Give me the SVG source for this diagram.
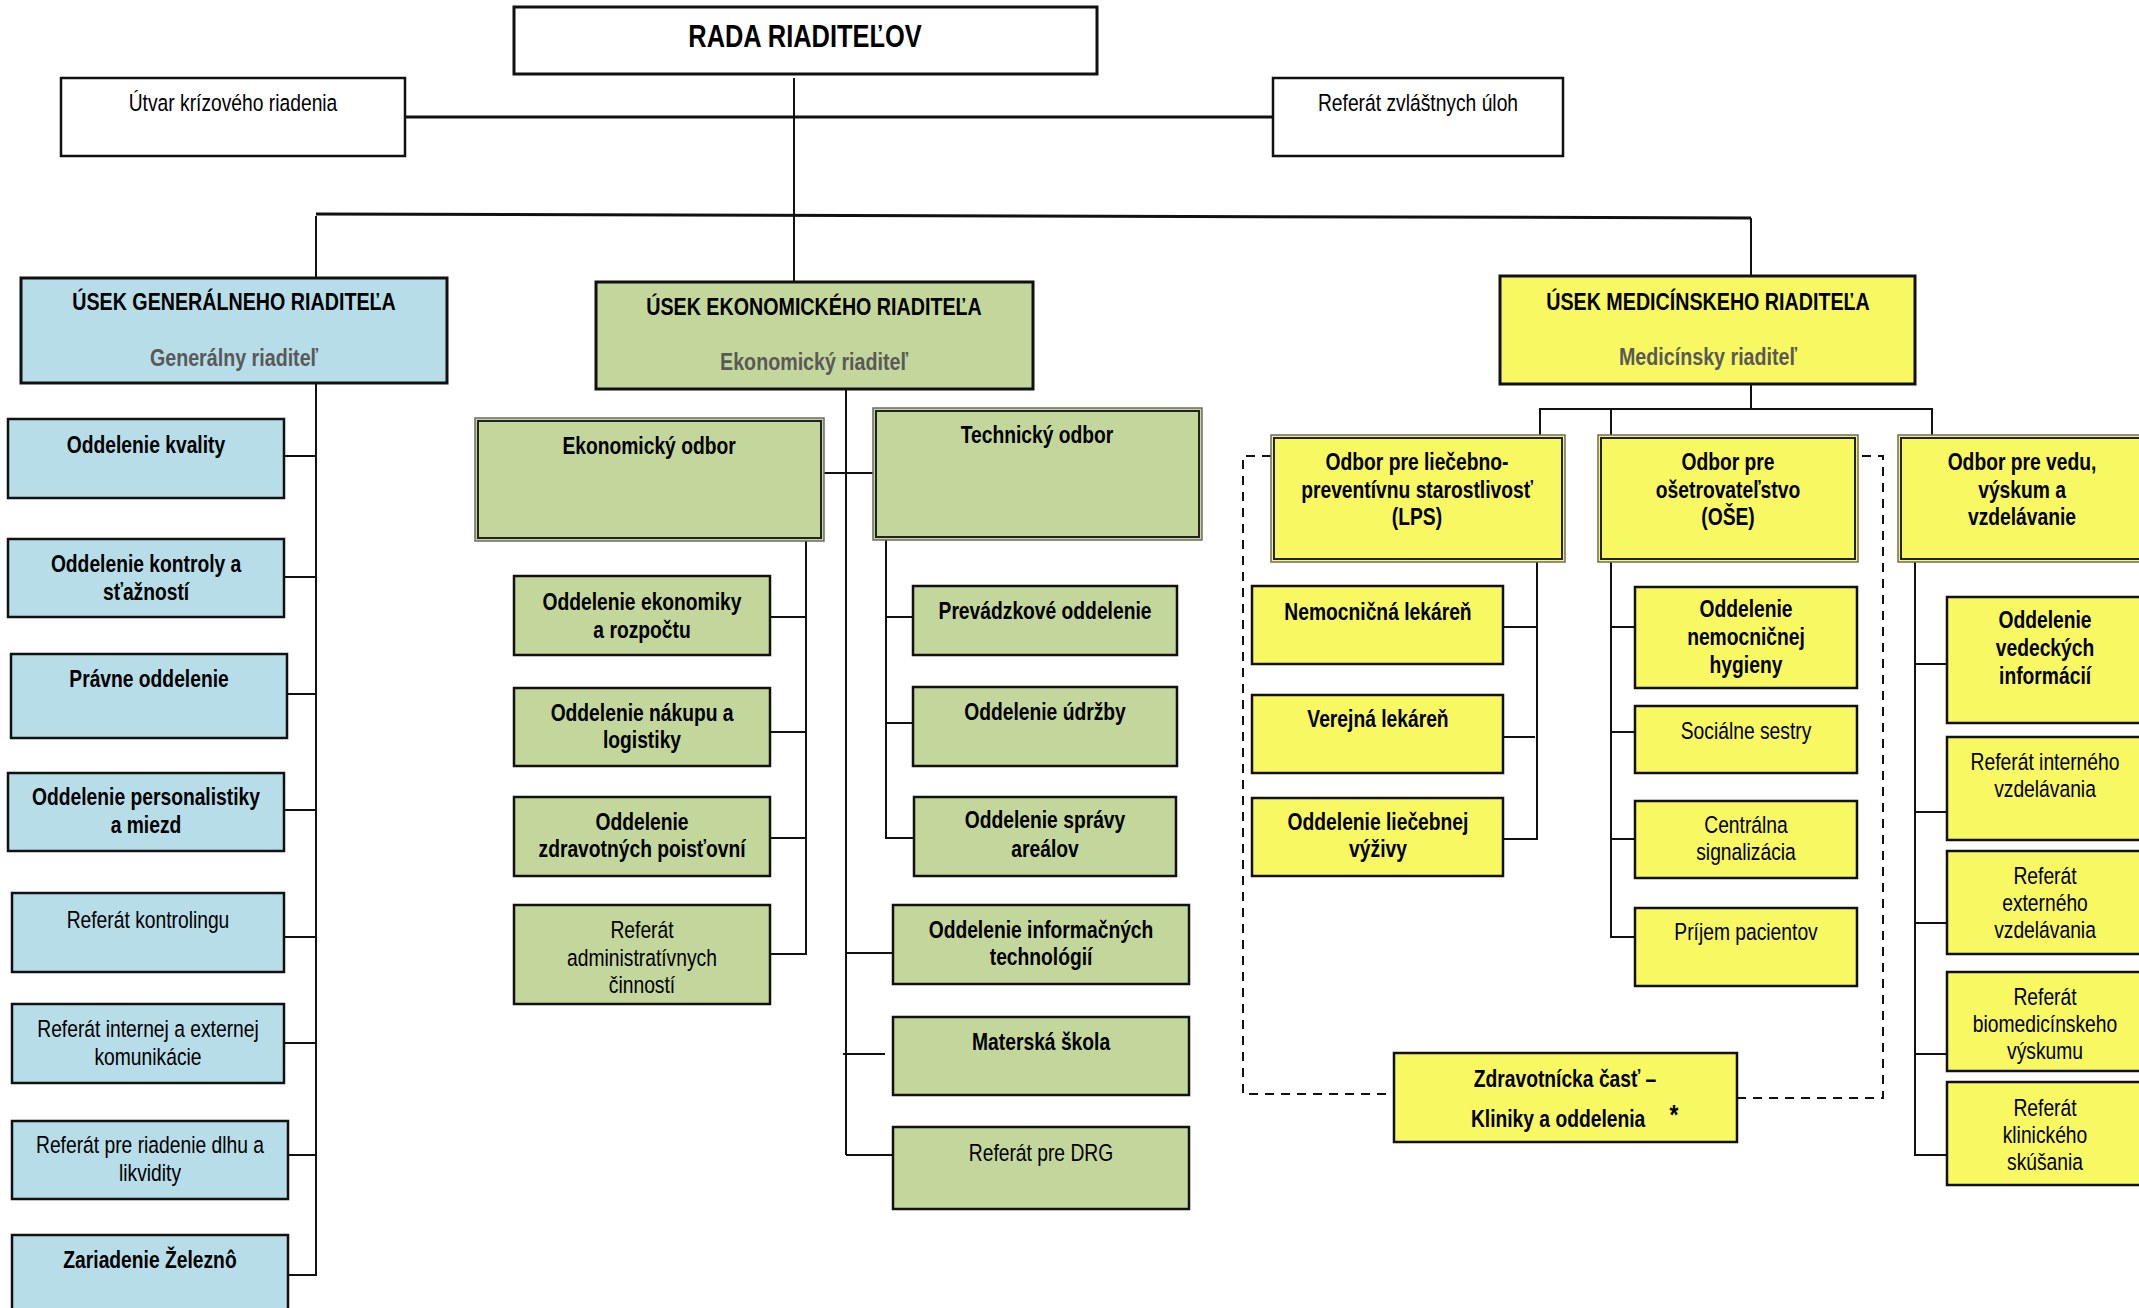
<svg xmlns="http://www.w3.org/2000/svg" width="2139" height="1308" viewBox="0 0 2139 1308">
<style>
text{font-family:"Liberation Sans Narrow","Arial Narrow","Liberation Sans",sans-serif;font-size:23.5px;text-anchor:middle;fill:#000;transform-box:fill-box;transform-origin:center;transform:scaleX(0.82)}
.b{font-weight:bold}
.sub{font-weight:bold;fill:#595959}
.box{stroke:#111;stroke-width:2.5}
.w{fill:#fff}
.bl{fill:#b7dde8}
.gr{fill:#c3d69b}
.ye{fill:#f8f862}
.outer{stroke:#6b6b6b;stroke-width:1.5}
.inner{fill:none;stroke:#222;stroke-width:2}
.ln{stroke:#111;stroke-width:2;fill:none}
.dash{stroke:#111;stroke-width:2;fill:none;stroke-dasharray:9,7}
</style>
<rect width="2139" height="1308" fill="#fff"/>
<g id="connectors">
<line class="ln" x1="405" y1="117" x2="1273" y2="117" style="stroke-width:3"/>
<line class="ln" x1="794" y1="78" x2="794" y2="282"/>
<polyline class="ln" points="316,214 1751,218" style="stroke-width:3"/>
<line class="ln" x1="316" y1="216" x2="316" y2="278"/>
<line class="ln" x1="1751" y1="218" x2="1751" y2="276"/>
<line class="ln" x1="316" y1="383" x2="316" y2="1276"/>
<line class="ln" x1="284" y1="456" x2="316" y2="456"/>
<line class="ln" x1="284" y1="577" x2="316" y2="577"/>
<line class="ln" x1="287" y1="694" x2="316" y2="694"/>
<line class="ln" x1="284" y1="810" x2="316" y2="810"/>
<line class="ln" x1="284" y1="937" x2="316" y2="937"/>
<line class="ln" x1="284" y1="1043" x2="316" y2="1043"/>
<line class="ln" x1="288" y1="1155" x2="316" y2="1155"/>
<line class="ln" x1="288" y1="1275" x2="316" y2="1275"/>
<line class="ln" x1="846" y1="389" x2="846" y2="1155"/>
<line class="ln" x1="824" y1="473" x2="873" y2="473"/>
<polyline class="ln" points="806,541 806,954 770,954"/>
<line class="ln" x1="770" y1="617" x2="806" y2="617"/>
<line class="ln" x1="770" y1="732" x2="806" y2="732"/>
<line class="ln" x1="770" y1="838" x2="806" y2="838"/>
<polyline class="ln" points="886,540 886,838 914,838"/>
<line class="ln" x1="886" y1="617" x2="913" y2="617"/>
<line class="ln" x1="886" y1="723" x2="913" y2="723"/>
<line class="ln" x1="846" y1="953" x2="893" y2="953"/>
<line class="ln" x1="843" y1="1054" x2="885" y2="1054"/>
<polyline class="ln" points="846,1155 893,1155"/>
<line class="ln" x1="1751" y1="384" x2="1751" y2="409"/>
<polyline class="ln" points="1540,435 1540,409 1932,409 1932,435"/>
<line class="ln" x1="1611" y1="409" x2="1611" y2="435"/>
<polyline class="ln" points="1537,562 1537,839 1503,839"/>
<line class="ln" x1="1503" y1="627" x2="1537" y2="627"/>
<line class="ln" x1="1503" y1="737" x2="1535" y2="737"/>
<polyline class="ln" points="1611,562 1611,937 1635,937"/>
<line class="ln" x1="1611" y1="627" x2="1635" y2="627"/>
<line class="ln" x1="1611" y1="732" x2="1635" y2="732"/>
<line class="ln" x1="1611" y1="839" x2="1635" y2="839"/>
<polyline class="ln" points="1915,562 1915,1155 1947,1155"/>
<line class="ln" x1="1915" y1="664" x2="1947" y2="664"/>
<line class="ln" x1="1915" y1="812" x2="1947" y2="812"/>
<line class="ln" x1="1915" y1="923" x2="1947" y2="923"/>
<line class="ln" x1="1915" y1="1054" x2="1947" y2="1054"/>
<polyline class="dash" points="1271,456 1243,456 1243,1094 1394,1094"/>
<polyline class="dash" points="1737,1098 1883,1098 1883,456 1858,456"/>
</g>

<g id="rada"><rect class="box w" x="514" y="7" width="583" height="67" style="stroke-width:3"/><text class="b" x="805" y="47" style="font-size:31px">RADA RIADITEĽOV</text></g>
<g id="utvar"><rect class="box w" x="61" y="78" width="344" height="78"/><text x="233" y="111">Útvar krízového riadenia</text></g>
<g id="referat-zvl"><rect class="box w" x="1273" y="78" width="290" height="78"/><text x="1418" y="111">Referát zvláštnych úloh</text></g>

<g id="usek-gen"><rect class="box bl" x="21" y="278" width="426" height="105" style="stroke-width:3"/><text class="b" x="234" y="310" style="font-size:24px">ÚSEK GENERÁLNEHO RIADITEĽA</text><text class="sub" x="234" y="366" style="font-size:24px">Generálny riaditeľ</text></g>
<g id="usek-eko"><rect class="box gr" x="596" y="282" width="437" height="107" style="stroke-width:3"/><text class="b" x="814" y="315" style="font-size:24px">ÚSEK EKONOMICKÉHO RIADITEĽA</text><text class="sub" x="814" y="370" style="font-size:24px">Ekonomický riaditeľ</text></g>
<g id="usek-med"><rect class="box ye" x="1500" y="276" width="415" height="108" style="stroke-width:3"/><text class="b" x="1708" y="310" style="font-size:24px">ÚSEK MEDICÍNSKEHO RIADITEĽA</text><text class="sub" x="1708" y="365" style="font-size:24px">Medicínsky riaditeľ</text></g>

<g id="g1"><rect class="box bl" x="8" y="419" width="276" height="79"/><text class="b" x="146" y="453">Oddelenie kvality</text></g>
<g id="g2"><rect class="box bl" x="8" y="539" width="276" height="78"/><text class="b" x="146" y="572">Oddelenie kontroly a</text><text class="b" x="146" y="600">sťažností</text></g>
<g id="g3"><rect class="box bl" x="11" y="654" width="276" height="84"/><text class="b" x="149" y="687">Právne oddelenie</text></g>
<g id="g4"><rect class="box bl" x="8" y="773" width="276" height="78"/><text class="b" x="146" y="805">Oddelenie personalistiky</text><text class="b" x="146" y="833">a miezd</text></g>
<g id="g5"><rect class="box bl" x="12" y="893" width="272" height="79"/><text x="148" y="928">Referát kontrolingu</text></g>
<g id="g6"><rect class="box bl" x="12" y="1004" width="272" height="79"/><text x="148" y="1037">Referát internej a externej</text><text x="148" y="1065">komunikácie</text></g>
<g id="g7"><rect class="box bl" x="12" y="1121" width="276" height="78"/><text x="150" y="1153">Referát pre riadenie dlhu a</text><text x="150" y="1181">likvidity</text></g>
<g id="g8"><rect class="box bl" x="12" y="1235" width="276" height="90"/><text class="b" x="150" y="1268">Zariadenie Železnô</text></g>

<g id="eko-odbor"><rect class="outer gr" x="475" y="418" width="349" height="123"/><rect class="inner" x="478" y="421" width="343" height="117"/><text class="b" x="649" y="454">Ekonomický odbor</text></g>
<g id="tech-odbor"><rect class="outer gr" x="873" y="408" width="329" height="132"/><rect class="inner" x="876" y="411" width="323" height="126"/><text class="b" x="1037" y="443">Technický odbor</text></g>
<g id="e1"><rect class="box gr" x="514" y="576" width="256" height="79"/><text class="b" x="642" y="610">Oddelenie ekonomiky</text><text class="b" x="642" y="638">a rozpočtu</text></g>
<g id="e2"><rect class="box gr" x="514" y="688" width="256" height="78"/><text class="b" x="642" y="721">Oddelenie nákupu a</text><text class="b" x="642" y="748">logistiky</text></g>
<g id="e3"><rect class="box gr" x="514" y="797" width="256" height="79"/><text class="b" x="642" y="830">Oddelenie</text><text class="b" x="642" y="857">zdravotných poisťovní</text></g>
<g id="e4"><rect class="box gr" x="514" y="905" width="256" height="99"/><text x="642" y="938">Referát</text><text x="642" y="966">administratívnych</text><text x="642" y="993">činností</text></g>
<g id="t1"><rect class="box gr" x="913" y="586" width="264" height="69"/><text class="b" x="1045" y="619">Prevádzkové oddelenie</text></g>
<g id="t2"><rect class="box gr" x="913" y="687" width="264" height="79"/><text class="b" x="1045" y="720">Oddelenie údržby</text></g>
<g id="t3"><rect class="box gr" x="914" y="797" width="262" height="79"/><text class="b" x="1045" y="828">Oddelenie správy</text><text class="b" x="1045" y="857">areálov</text></g>
<g id="t4"><rect class="box gr" x="893" y="905" width="296" height="79"/><text class="b" x="1041" y="938">Oddelenie informačných</text><text class="b" x="1041" y="965">technológií</text></g>
<g id="t5"><rect class="box gr" x="893" y="1017" width="296" height="78"/><text class="b" x="1041" y="1050">Materská škola</text></g>
<g id="t6"><rect class="box gr" x="893" y="1127" width="296" height="82"/><text x="1041" y="1161">Referát pre DRG</text></g>

<g id="lps"><rect class="outer ye" x="1271" y="435" width="294" height="127"/><rect class="inner" x="1274" y="438" width="288" height="121"/><text class="b" x="1417" y="470">Odbor pre liečebno-</text><text class="b" x="1417" y="498">preventívnu starostlivosť</text><text class="b" x="1417" y="525">(LPS)</text></g>
<g id="ose"><rect class="outer ye" x="1598" y="435" width="260" height="127"/><rect class="inner" x="1601" y="438" width="254" height="121"/><text class="b" x="1728" y="470">Odbor pre</text><text class="b" x="1728" y="498">ošetrovateľstvo</text><text class="b" x="1728" y="525">(OŠE)</text></g>
<g id="vedu"><rect class="outer ye" x="1898" y="435" width="250" height="127"/><rect class="inner" x="1901" y="438" width="244" height="121"/><text class="b" x="2022" y="470">Odbor pre vedu,</text><text class="b" x="2022" y="498">výskum a</text><text class="b" x="2022" y="525">vzdelávanie</text></g>
<g id="l1"><rect class="box ye" x="1252" y="586" width="251" height="78"/><text class="b" x="1378" y="620">Nemocničná lekáreň</text></g>
<g id="l2"><rect class="box ye" x="1252" y="695" width="251" height="78"/><text class="b" x="1378" y="727">Verejná lekáreň</text></g>
<g id="l3"><rect class="box ye" x="1252" y="798" width="251" height="78"/><text class="b" x="1378" y="830">Oddelenie liečebnej</text><text class="b" x="1378" y="857">výživy</text></g>
<g id="o1"><rect class="box ye" x="1635" y="587" width="222" height="101"/><text class="b" x="1746" y="617">Oddelenie</text><text class="b" x="1746" y="645">nemocničnej</text><text class="b" x="1746" y="673">hygieny</text></g>
<g id="o2"><rect class="box ye" x="1635" y="706" width="222" height="67"/><text x="1746" y="739">Sociálne sestry</text></g>
<g id="o3"><rect class="box ye" x="1635" y="801" width="222" height="77"/><text x="1746" y="833">Centrálna</text><text x="1746" y="860">signalizácia</text></g>
<g id="o4"><rect class="box ye" x="1635" y="908" width="222" height="78"/><text x="1746" y="940">Príjem pacientov</text></g>
<g id="v1"><rect class="box ye" x="1947" y="597" width="198" height="126"/><text class="b" x="2045" y="628">Oddelenie</text><text class="b" x="2045" y="656">vedeckých</text><text class="b" x="2045" y="684">informácií</text></g>
<g id="v2"><rect class="box ye" x="1947" y="737" width="198" height="103"/><text x="2045" y="770">Referát interného</text><text x="2045" y="797">vzdelávania</text></g>
<g id="v3"><rect class="box ye" x="1947" y="851" width="198" height="103"/><text x="2045" y="884">Referát</text><text x="2045" y="911">externého</text><text x="2045" y="938">vzdelávania</text></g>
<g id="v4"><rect class="box ye" x="1947" y="972" width="198" height="99"/><text x="2045" y="1005">Referát</text><text x="2045" y="1032">biomedicínskeho</text><text x="2045" y="1059">výskumu</text></g>
<g id="v5"><rect class="box ye" x="1947" y="1082" width="198" height="103"/><text x="2045" y="1116">Referát</text><text x="2045" y="1143">klinického</text><text x="2045" y="1170">skúšania</text></g>
<g id="zdrav"><rect class="box ye" x="1394" y="1053" width="343" height="89"/><text class="b" x="1565" y="1087">Zdravotnícka časť –</text><text class="b" x="1558" y="1127">Kliniky a oddelenia</text><text class="b" x="1674" y="1124" style="font-size:28px">*</text></g>
</svg>
